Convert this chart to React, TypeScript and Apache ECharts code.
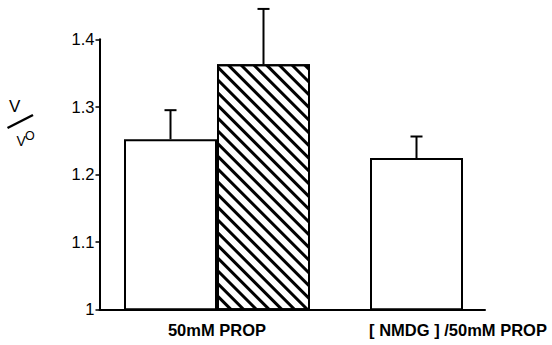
import React, { useEffect, useRef } from "react";
import * as echarts from "echarts";

// ---- data ----
const categories = ["50mM PROP", "[ NMDG ] /50mM PROP"];
const controlMeans = [1.252, 1.224];
const controlSE = [0.043, 0.032];
const propMeans: (number | null)[] = [1.363, null];
const propSE: (number | null)[] = [0.082, null];
const yMin = 1;
const yMax = 1.4;
const yStep = 0.1;

const FONT = "'Liberation Sans', Arial, Helvetica, sans-serif";
const BAR_W = 93;
const GRID_TOP = 39.3;
const GRID_BOTTOM = 35.7;

function errSeries(means: (number | null)[], ses: (number | null)[], offset: number) {
  const data: number[][] = [];
  means.forEach((m, i) => {
    const s = ses[i];
    if (m != null && s != null) data.push([i, m, m + s]);
  });
  return {
    type: "custom",
    xAxisIndex: 0,
    yAxisIndex: 0,
    clip: false,
    z: 5,
    data,
    renderItem: (params: any, api: any) => {
      const base = api.coord([api.value(0), api.value(1)]);
      const top = api.coord([api.value(0), api.value(2)]);
      const x = base[0] + offset;
      const style = { stroke: "#000", lineWidth: 2, fill: "none" };
      return {
        type: "group",
        children: [
          { type: "line", shape: { x1: x, y1: base[1], x2: x, y2: top[1] }, style },
          { type: "line", shape: { x1: x - 6, y1: top[1], x2: x + 6, y2: top[1] }, style },
        ],
      };
    },
  };
}

export default function App() {
  const ref = useRef<HTMLDivElement>(null);
  useEffect(() => {
    document.body.style.margin = "0";
    if (!ref.current) return;
    const chart = echarts.init(ref.current, null, { renderer: "svg" });
    const catData = categories.map((c, i) =>
      i === categories.length - 1 ? { value: c, textStyle: { padding: [0, 10, 0, 0] } } : c
    );
    const option: any = {
      animation: false,
      backgroundColor: "#fff",
      grid: [
        { left: 94, width: 492, top: GRID_TOP, bottom: GRID_BOTTOM, containLabel: false, outerBoundsMode: "none" },
        { left: 99.5, right: 67, top: GRID_TOP, bottom: GRID_BOTTOM, containLabel: false, outerBoundsMode: "none" },
      ],
      xAxis: [
        {
          type: "category",
          gridIndex: 0,
          data: catData,
          axisLine: { show: false },
          axisTick: { show: false },
          splitLine: { show: false },
          axisLabel: {
            color: "#000",
            fontFamily: FONT,
            fontWeight: "bold",
            fontSize: 16.5,
            margin: 12,
            interval: 0,
          },
        },
        {
          type: "value",
          gridIndex: 1,
          min: 0,
          max: 1,
          axisLine: { show: true, lineStyle: { color: "#000", width: 2 } },
          axisTick: { show: false },
          axisLabel: { show: false },
          splitLine: { show: false },
        },
      ],
      yAxis: [
        { type: "value", gridIndex: 0, min: yMin, max: yMax, interval: yStep, show: false },
        {
          type: "value",
          gridIndex: 1,
          min: yMin,
          max: yMax,
          interval: yStep,
          axisLine: { show: true, lineStyle: { color: "#000", width: 2 } },
          axisTick: { show: true, length: 4, lineStyle: { color: "#000", width: 1.5 } },
          splitLine: { show: false },
          axisLabel: { color: "#000", fontFamily: FONT, fontSize: 16.5, margin: 5 },
        },
      ],
      series: [
        {
          type: "bar",
          xAxisIndex: 0,
          yAxisIndex: 0,
          data: controlMeans,
          barWidth: BAR_W,
          barGap: "0%",
          itemStyle: { color: "#fff", borderColor: "#000", borderWidth: 2 },
        },
        {
          type: "bar",
          xAxisIndex: 0,
          yAxisIndex: 0,
          data: propMeans,
          barWidth: BAR_W,
          barGap: "0%",
          itemStyle: {
            color: "#fff",
            borderColor: "#000",
            borderWidth: 2,
            decal: {
              symbol: "rect",
              symbolSize: 1,
              color: "#000",
              dashArrayX: [1, 0],
              dashArrayY: [2.6, 5.4],
              rotation: Math.PI / 4,
            },
          },
        },
        errSeries(controlMeans, controlSE, -BAR_W / 2),
        errSeries(propMeans, propSE, BAR_W / 2),
      ],
      graphic: [
        {
          type: "text",
          x: 9,
          y: 106,
          style: { text: "V", fontFamily: FONT, fontSize: 17, fill: "#000", textAlign: "left", textVerticalAlign: "middle" },
        },
        {
          type: "line",
          shape: { x1: 7.5, y1: 128, x2: 33, y2: 115 },
          style: { stroke: "#000", lineWidth: 2.5 },
        },
        {
          type: "text",
          x: 16.5,
          y: 140.5,
          style: { text: "V", fontFamily: FONT, fontSize: 14, fill: "#000", textAlign: "left", textVerticalAlign: "middle" },
        },
        {
          type: "text",
          x: 25,
          y: 135.5,
          style: { text: "O", fontFamily: FONT, fontSize: 12.5, fill: "#000", textAlign: "left", textVerticalAlign: "middle" },
        },
      ],
    };
    chart.setOption(option);
    return () => chart.dispose();
  }, []);
  return <div ref={ref} style={{ width: 552, height: 345 }} />;
}
